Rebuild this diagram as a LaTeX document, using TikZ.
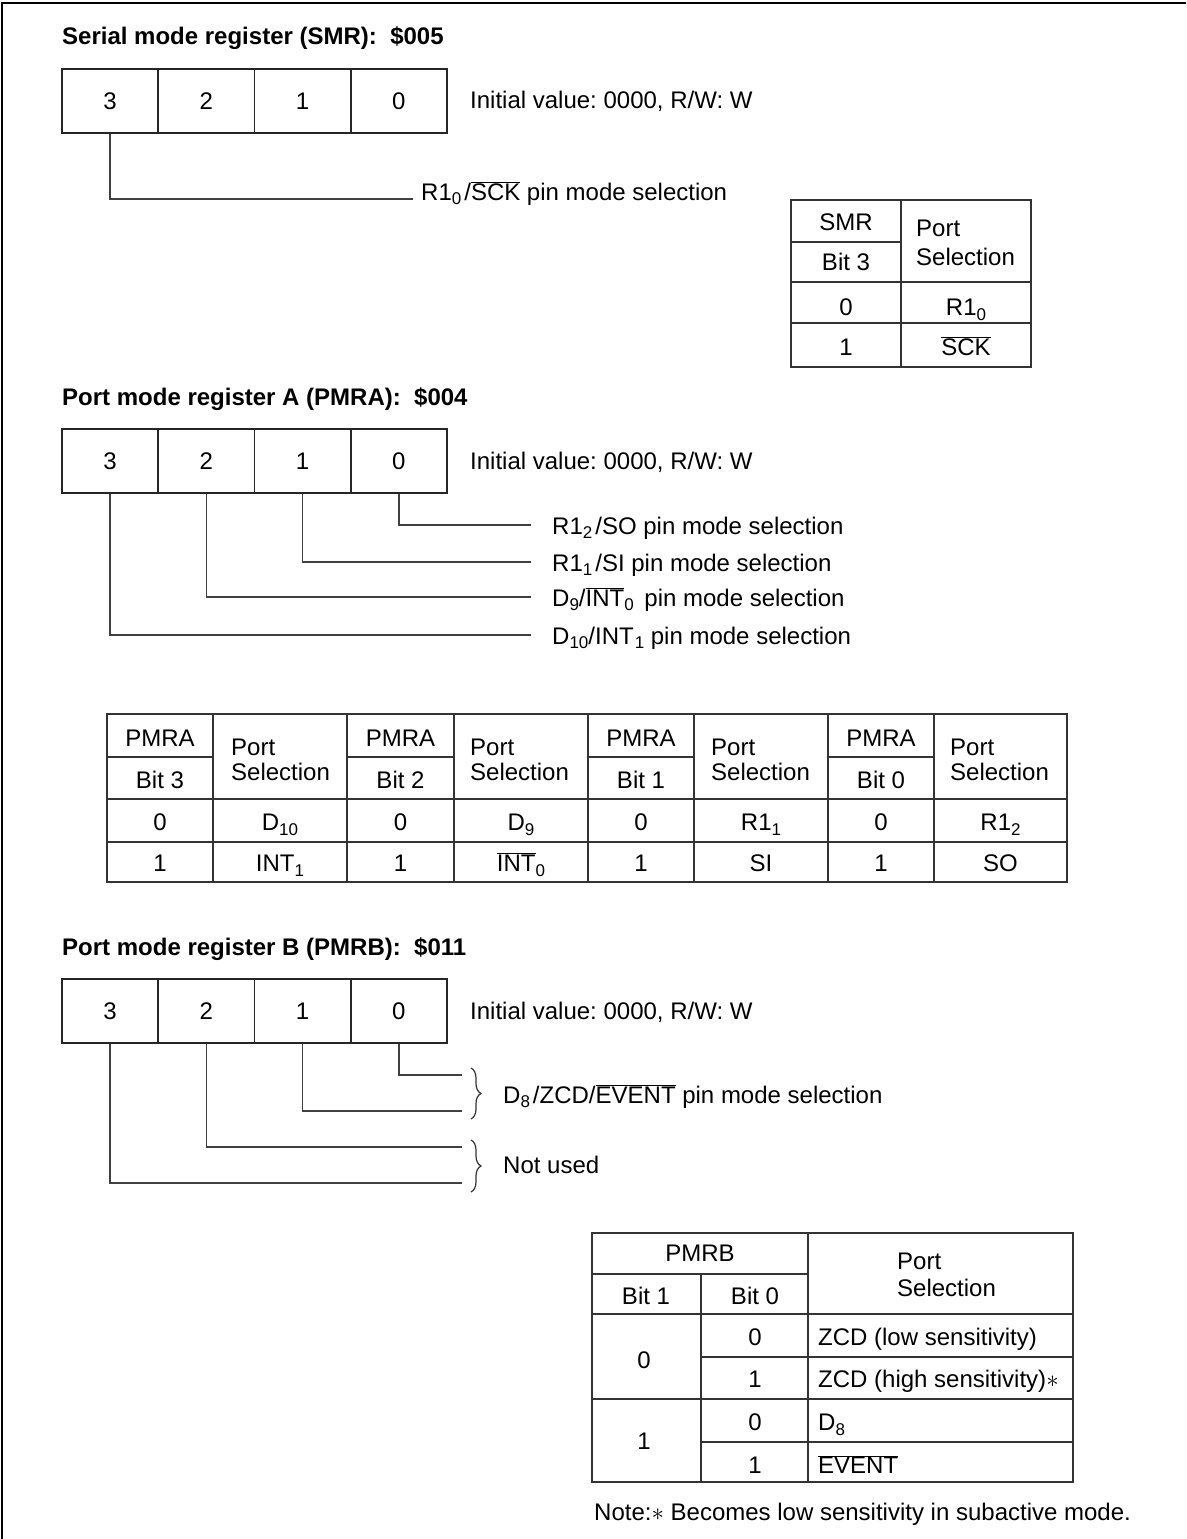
\documentclass[tikz,border=0pt]{standalone}
\usepackage{fontspec}
\setmainfont{Liberation Sans}
\usetikzlibrary{decorations.pathreplacing}
\frenchspacing
\newcommand\fsz{\fontsize{24}{28}\selectfont}
\newcommand\mysub[1]{\raisebox{-4.5pt}{\fontsize{17}{17}\selectfont #1}}
\newcommand\ovl[1]{$\overline{\mbox{#1}}$}
\begin{document}
\begin{tikzpicture}[x=1pt,y=-1pt,
  cell/.style={draw=black!85, line width=1.6pt, minimum width=96.25pt, minimum height=64pt, inner sep=0pt, font=\fsz},
  conn/.style={draw=black!75, line width=1.5pt},
  tline/.style={draw=black!80, line width=1.4pt},
  txt/.style={font=\fsz, inner sep=0pt, anchor=base},
  lbl/.style={font=\fsz, inner sep=0pt, anchor=base west},
  ttl/.style={font=\fsz\bfseries, inner sep=0pt, anchor=base west},
  brc/.style={draw=black!80, line width=1.2pt, decorate, decoration={brace, amplitude=10pt}}]
\useasboundingbox (0,0) rectangle (1186,1539);
% frame (top and left edges)
\draw[line width=2pt] (1.5,1539) -- (1.5,3) -- (1186,3);

% ================= SMR =================
\node[ttl] (smrT) at (62,44.5) {Serial mode register (SMR):\ \ \$005};
\node[cell] (s3) at (110.125,101) {3};
\node[cell] (s2) at (206.375,101) {2};
\node[cell] (s1) at (302.625,101) {1};
\node[cell] (s0) at (398.875,101) {0};
\node[lbl] (smrI) at (470,108.5) {Initial value: 0000, R/W: W};
\coordinate (sE) at (413,199);
\draw[conn] (s3.south) |- (sE);
\node[lbl] (sL) at (421,200) {R1\mysub{0}\hspace{3pt}/\ovl{SCK} pin mode selection};

% SMR table
\draw[tline] (791,200) rectangle (1031,367);
\draw[tline] (901,200) -- (901,367);
\draw[tline] (791,242) -- (901,242);
\draw[tline] (791,282) -- (1031,282);
\draw[tline] (791,323) -- (1031,323);
\node[txt] (st1) at (846,230.6) {SMR};
\node[txt] (st2) at (846,270.6) {Bit 3};
\node[lbl] (st3) at (916,236.6) {Port};
\node[lbl] (st4) at (916,265.6) {Selection};
\node[txt] (st5) at (846,315.6) {0};
\node[txt] (st6) at (966,315.6) {R1\mysub{0}};
\node[txt] (st7) at (846,355.6) {1};
\node[txt] (st8) at (966,355.6) {\ovl{SCK}};

% ================= PMRA =================
\node[ttl] (paT) at (62,405) {Port mode register A (PMRA):\ \ \$004};
\node[cell] (a3) at (110.125,461) {3};
\node[cell] (a2) at (206.375,461) {2};
\node[cell] (a1) at (302.625,461) {1};
\node[cell] (a0) at (398.875,461) {0};
\node[lbl] (paI) at (470,469) {Initial value: 0000, R/W: W};
\coordinate (aE0) at (531,525);
\coordinate (aE1) at (531,562);
\coordinate (aE2) at (531,597);
\coordinate (aE3) at (531,635);
\draw[conn] (a0.south) |- (aE0);
\draw[conn] (a1.south) |- (aE1);
\draw[conn] (a2.south) |- (aE2);
\draw[conn] (a3.south) |- (aE3);
\node[lbl] (aL0) at (552,534) {R1\mysub{2}\hspace{3pt}/SO pin mode selection};
\node[lbl] (aL1) at (552,571) {R1\mysub{1}\hspace{3pt}/SI pin mode selection};
\node[lbl] (aL2) at (552,606) {D\mysub{9}/\ovl{INT}\mysub{0}\hspace{4pt} pin mode selection};
\node[lbl] (aL3) at (552,644) {D\mysub{10}/INT\hspace{1pt}\mysub{1} pin mode selection};

% PMRA table
\draw[tline] (107,714) rectangle (1067,882);
\foreach \x in {213,347,454,588,694,828,934} \draw[tline] (\x,714) -- (\x,882);
\foreach \x/\y in {107/213,347/454,588/694,828/934} \draw[tline] (\x,757) -- (\y,757);
\draw[tline] (107,799) -- (1067,799);
\draw[tline] (107,842) -- (1067,842);
\node[txt] (ta1) at (160,746.6) {PMRA};
\node[txt] (ta2) at (160,788.6) {Bit 3};
\node[lbl] (ta3) at (231,755.6) {Port};
\node[lbl] (ta4) at (231,780.6) {Selection};
\node[txt] (ta5) at (400.5,746.6) {PMRA};
\node[txt] (ta6) at (400.5,788.6) {Bit 2};
\node[lbl] (ta7) at (470,755.6) {Port};
\node[lbl] (ta8) at (470,780.6) {Selection};
\node[txt] (ta9) at (641,746.6) {PMRA};
\node[txt] (ta10) at (641,788.6) {Bit 1};
\node[lbl] (ta11) at (711,755.6) {Port};
\node[lbl] (ta12) at (711,780.6) {Selection};
\node[txt] (ta13) at (881,746.6) {PMRA};
\node[txt] (ta14) at (881,788.6) {Bit 0};
\node[lbl] (ta15) at (950,755.6) {Port};
\node[lbl] (ta16) at (950,780.6) {Selection};
\node[txt] (tb1) at (160,830.6) {0};
\node[txt] (tb2) at (280,830.6) {D\mysub{10}};
\node[txt] (tb3) at (400.5,830.6) {0};
\node[txt] (tb4) at (521,830.6) {D\mysub{9}};
\node[txt] (tb5) at (641,830.6) {0};
\node[txt] (tb6) at (761,830.6) {R1\mysub{1}};
\node[txt] (tb7) at (881,830.6) {0};
\node[txt] (tb8) at (1000.5,830.6) {R1\mysub{2}};
\node[txt] (tc1) at (160,871.6) {1};
\node[txt] (tc2) at (280,871.6) {INT\mysub{1}};
\node[txt] (tc3) at (400.5,871.6) {1};
\node[txt] (tc4) at (521,871.6) {\ovl{INT}\mysub{0}};
\node[txt] (tc5) at (641,871.6) {1};
\node[txt] (tc6) at (761,871.6) {SI};
\node[txt] (tc7) at (881,871.6) {1};
\node[txt] (tc8) at (1000.5,871.6) {SO};

% ================= PMRB =================
\node[ttl] (pbT) at (62,955) {Port mode register B (PMRB):\ \ \$011};
\node[cell] (b3) at (110.125,1011) {3};
\node[cell] (b2) at (206.375,1011) {2};
\node[cell] (b1) at (302.625,1011) {1};
\node[cell] (b0) at (398.875,1011) {0};
\node[lbl] (pbI) at (470,1019) {Initial value: 0000, R/W: W};
\coordinate (bE0) at (462,1075);
\coordinate (bE1) at (462,1111);
\coordinate (bE2) at (462,1147);
\coordinate (bE3) at (462,1183);
\draw[conn] (b0.south) |- (bE0);
\draw[conn] (b1.south) |- (bE1);
\draw[conn] (b2.south) |- (bE2);
\draw[conn] (b3.south) |- (bE3);
\draw[brc] (471,1068) -- (471,1119);
\draw[brc] (471,1140) -- (471,1192);
\node[lbl] (bL0) at (503,1103) {D\mysub{8}\hspace{3pt}/ZCD/\ovl{EVENT} pin mode selection};
\node[lbl] (bL1) at (503,1173) {Not used};

% PMRB table
\draw[tline] (592,1233) rectangle (1073,1482);
\draw[tline] (701,1274) -- (701,1482);
\draw[tline] (808,1233) -- (808,1482);
\draw[tline] (592,1274) -- (808,1274);
\draw[tline] (592,1314) -- (1073,1314);
\draw[tline] (701,1357) -- (1073,1357);
\draw[tline] (592,1399) -- (1073,1399);
\draw[tline] (701,1442) -- (1073,1442);
\node[txt] (tp1) at (700,1261.6) {PMRB};
\node[txt] (tp2) at (646,1304.6) {Bit 1};
\node[txt] (tp3) at (755,1304.6) {Bit 0};
\node[lbl] (tp4) at (897,1269.6) {Port};
\node[lbl] (tp5) at (897,1296.6) {Selection};
\node[txt] (tp6) at (644,1368.6) {0};
\node[txt] (tp7) at (644,1449.6) {1};
\node[txt] (tp8) at (755,1345.6) {0};
\node[txt] (tp9) at (755,1387.6) {1};
\node[txt] (tp10) at (755,1430.6) {0};
\node[txt] (tp11) at (755,1473.6) {1};
\node[lbl] (tp12) at (818,1345.6) {ZCD (low sensitivity)};
\node[lbl] (tp13) at (818,1387.6) {ZCD (high sensitivity)$\ast$};
\node[lbl] (tp14) at (818,1430.6) {D\mysub{8}};
\node[lbl] (tp15) at (818,1473.6) {\ovl{EVENT}};
\node[lbl] (note) at (594,1520.6) {Note:$\ast$ Becomes low sensitivity in subactive mode.};
\end{tikzpicture}
\end{document}
